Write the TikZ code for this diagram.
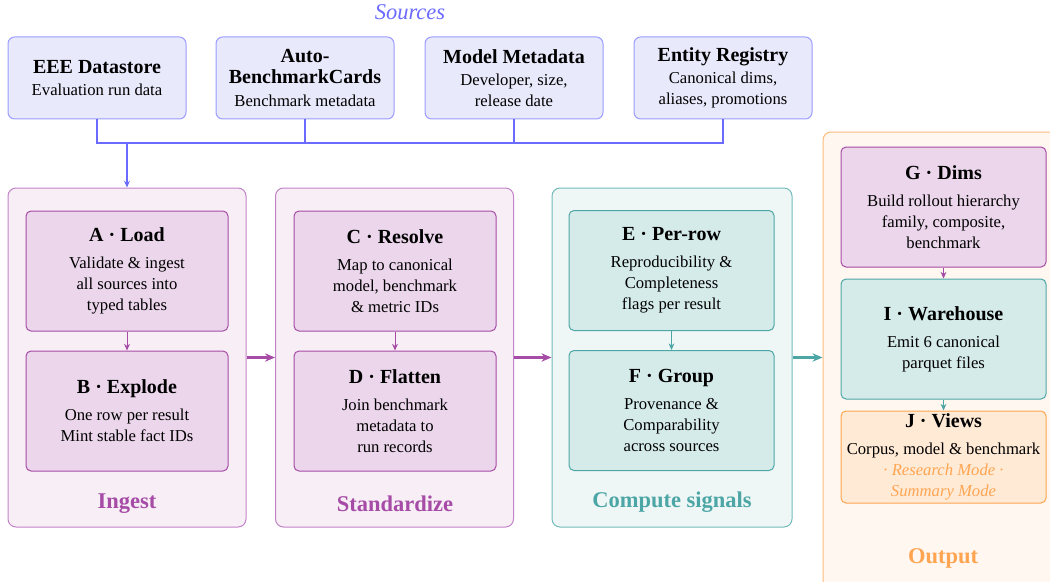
\documentclass[tikz,border=0pt]{standalone}
\usepackage{fontspec}
\setmainfont{Liberation Serif}
\usetikzlibrary{arrows.meta}

\definecolor{srcline}{HTML}{6B6BFF}
\definecolor{srcedge}{HTML}{9C9CFF}
\definecolor{srcfill}{HTML}{E9E9FC}
\definecolor{plumedge}{HTML}{C283C8}
\definecolor{plumfill}{HTML}{F7EEF6}
\definecolor{plumline}{HTML}{A64CA6}
\definecolor{plumstep}{HTML}{EBD6EB}
\definecolor{tealedge}{HTML}{72BBBA}
\definecolor{tealfill}{HTML}{EFF7F6}
\definecolor{tealline}{HTML}{4DA6A6}
\definecolor{tealstep}{HTML}{D5EBEA}
\definecolor{sandedge}{HTML}{FFBB7E}
\definecolor{sandfill}{HTML}{FFF7F0}
\definecolor{sandline}{HTML}{FFA552}
\definecolor{sandstep}{HTML}{FFEAD6}

\tikzset{
  srcbox/.style={draw=srcedge, fill=srcfill, rounded corners=4pt, line width=0.6pt,
    minimum width=106.8pt, minimum height=49.2pt, align=center, inner sep=0pt},
  panel/.style={rounded corners=4.8pt, line width=0.6pt, inner sep=0pt, minimum width=142.8pt,
    minimum height=203.4pt},
  stepbox/.style={rounded corners=3pt, line width=0.6pt, minimum width=121.2pt,
    minimum height=72pt, align=center, inner sep=0pt},
  stagelabel/.style={font=\fontsize{13.5}{16}\selectfont\bfseries, anchor=base},
  steparrow/.style={-{Stealth[length=4pt,width=3.5pt]}, line width=0.6pt},
  stagearrow/.style={-{Stealth[length=6pt,width=5pt]}, line width=1.3pt},
}

\newcommand{\boxhead}[1]{{\large\bfseries #1}\\[3.6pt]}

\begin{document}
\begin{tikzpicture}[x=0.6pt, y=0.6pt, font=\fontsize{10}{12.6}\selectfont]
\useasboundingbox (0,0) rectangle (1050,-581);

% sources
\node[font=\fontsize{13.5}{16}\selectfont\itshape, text=srcline, anchor=base] (srctitle) at (410,-20) {Sources};
\node[srcbox] (eee) at (97,-78) {{\large\bfseries EEE Datastore}\\[1pt] Evaluation run data};
\node[srcbox] (cards) at (305,-78) {{\large\bfseries Auto-}\\{\large\bfseries BenchmarkCards}\\[1pt] Benchmark metadata};
\node[srcbox] (meta) at (514,-78) {{\large\bfseries Model Metadata}\\[1pt] Developer, size,\\ release date};
\node[srcbox] (registry) at (723,-78) {{\large\bfseries Entity Registry}\\[1pt] Canonical dims,\\ aliases, promotions};

% stage panels
\node[panel, draw=plumedge, fill=plumfill] (ingest) at (127,-357.5) {};
\node[panel, draw=plumedge, fill=plumfill] (standardize) at (394.5,-357.5) {};
\node[panel, draw=tealedge, fill=tealfill, minimum width=144pt] (compute) at (672,-357.5) {};
\node[panel, draw=sandedge, fill=sandfill, minimum width=143.4pt, minimum height=276.6pt] (output) at (942.5,-362.5) {};

% bus from the sources
\coordinate (bus) at (0,-143);
\draw[srcline, line width=0.8pt] (eee.south) -- (eee.south |- bus) -- (registry.south |- bus) -- (registry.south);
\draw[srcline, line width=0.8pt] (cards.south) -- (cards.south |- bus);
\draw[srcline, line width=0.8pt] (meta.south) -- (meta.south |- bus);
\draw[srcline, steparrow, line width=0.8pt] (ingest.north |- bus) -- (ingest.north);

% steps
\node[stepbox, draw=plumline, fill=plumstep] (load) at (127,-271)
  {\boxhead{A · Load}Validate \& ingest\\ all sources into\\ typed tables};
\node[stepbox, draw=plumline, fill=plumstep] (explode) at (127,-411)
  {\boxhead{B · Explode}One row per result\\ Mint stable fact IDs};
\node[stepbox, draw=plumline, fill=plumstep] (resolve) at (395,-271)
  {\boxhead{C · Resolve}Map to canonical\\ model, benchmark\\ \& metric IDs};
\node[stepbox, draw=plumline, fill=plumstep] (flatten) at (395,-411)
  {\boxhead{D · Flatten}Join benchmark\\ metadata to\\ run records};
\node[stepbox, draw=tealline, fill=tealstep, minimum width=123pt] (perrow) at (671.5,-270.5)
  {\boxhead{E · Per-row}Reproducibility \&\\ Completeness\\ flags per result};
\node[stepbox, draw=tealline, fill=tealstep, minimum width=123pt] (group) at (671.5,-410.5)
  {\boxhead{F · Group}Provenance \&\\ Comparability\\ across sources};
\node[stepbox, draw=plumline, fill=plumstep, minimum width=123pt] (dims) at (943.5,-207)
  {\boxhead{G · Dims}Build rollout hierarchy\\ family, composite,\\ benchmark};
\node[stepbox, draw=tealline, fill=tealstep, minimum width=123pt] (warehouse) at (943.5,-339)
  {\boxhead{I · Warehouse}Emit 6 canonical\\ parquet files};
\node[stepbox, draw=sandline, fill=sandstep, minimum width=123pt, minimum height=55.2pt] (views) at (943.5,-457)
  {\boxhead{J · Views}Corpus, model \& benchmark\\ {\itshape\color{sandline}· Research Mode ·}\\ {\itshape\color{sandline}Summary Mode}};

% stage labels
\node[stagelabel, text=plumline] (ingestlbl) at (127,-508) {Ingest};
\node[stagelabel, text=plumline] (standardizelbl) at (395,-511) {Standardize};
\node[stagelabel, text=tealline] (computelbl) at (672,-507) {Compute signals};
\node[stagelabel, text=sandline] (outputlbl) at (943,-563) {Output};

% arrows
\draw[steparrow, plumline] (load) -- (explode);
\draw[steparrow, plumline] (resolve) -- (flatten);
\draw[steparrow, tealline] (perrow) -- (group);
\draw[steparrow, plumline] (dims) -- (warehouse);
\draw[steparrow, tealline] (warehouse) -- (views);
\draw[stagearrow, plumline] (ingest.east) -- (standardize.west);
\draw[stagearrow, plumline] (standardize.east) -- (compute.west);
\draw[stagearrow, tealline] (compute.east) -- (output.west |- compute.east);
\end{tikzpicture}
\end{document}
